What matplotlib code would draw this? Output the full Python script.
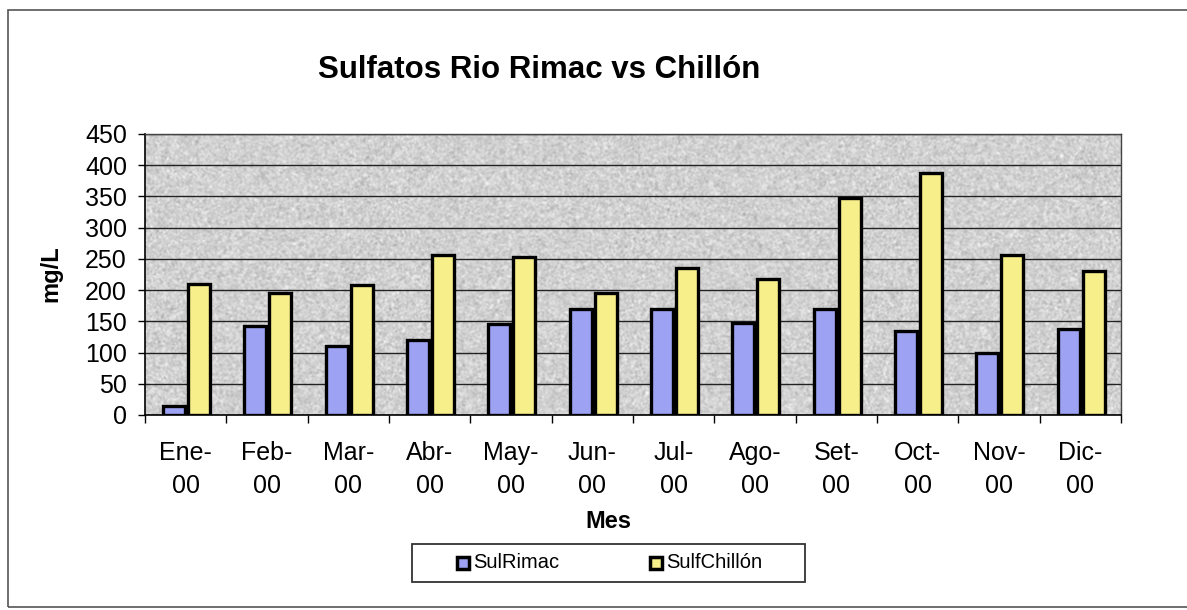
import numpy as np
import matplotlib
matplotlib.use("Agg")
import matplotlib.pyplot as plt
from matplotlib.patches import Rectangle

plt.rcParams['font.family'] = ['Liberation Sans', 'DejaVu Sans']

meses = ["Ene-\n00", "Feb-\n00", "Mar-\n00", "Abr-\n00", "May-\n00", "Jun-\n00",
         "Jul-\n00", "Ago-\n00", "Set-\n00", "Oct-\n00", "Nov-\n00", "Dic-\n00"]
sul_rimac = [14, 142, 111, 120, 145, 170, 170, 148, 170, 135, 100, 137]
sulf_chillon = [210, 196, 208, 257, 253, 195, 236, 218, 348, 387, 257, 230]
y_ticks = [0, 50, 100, 150, 200, 250, 300, 350, 400, 450]
series_names = ["SulRimac", "SulfChillón"]
series_colors = ["#9da3f2", "#f6ef8a"]

W, H, DPI = 1187, 610, 100
fig = plt.figure(figsize=(W / DPI, H / DPI), dpi=DPI)
fig.patch.set_facecolor("white")


def fx(px):
    return px / W


def fy(py):
    return 1 - py / H


# chart frame
fig.add_artist(Rectangle((fx(8), fy(607)), 1.2, (607 - 10) / H,
                         transform=fig.transFigure, fill=False,
                         edgecolor="#555555", linewidth=1.2))

ax = fig.add_axes([fx(145), fy(415), (1121 - 145) / W, (415 - 134) / H])

# granite-like plot area fill
rng = np.random.default_rng(7)
tex = rng.normal(0, 1, (290, 980))
k = np.array([0.25, 0.5, 0.25])
tex = np.apply_along_axis(lambda r: np.convolve(r, k, mode="same"), 1, tex)
tex = np.apply_along_axis(lambda c: np.convolve(c, k, mode="same"), 0, tex)
gray = np.clip(0.82 + 0.10 * tex, 0, 1)
rgb = np.dstack([gray, gray, gray])
ax.imshow(rgb, extent=(-0.5, 11.5, 0, 450), aspect="auto", zorder=0,
          interpolation="bilinear")

x = np.arange(len(meses))
bw = 0.27
ax.bar(x - 0.145, sul_rimac, bw, color=series_colors[0], edgecolor="black",
       linewidth=2.4, zorder=3)
ax.bar(x + 0.165, sulf_chillon, bw, color=series_colors[1], edgecolor="black",
       linewidth=2.4, zorder=3)

ax.set_xlim(-0.5, 11.5)
ax.set_ylim(0, 450)
ax.set_yticks(y_ticks)
ax.set_yticklabels([str(v) for v in y_ticks], fontsize=18)
ax.yaxis.grid(True, color="#222222", linewidth=1.0)
for gl in ax.get_ygridlines():
    gl.set_zorder(1)

ax.set_xticks(x)
ax.set_xticklabels(meses, fontsize=18, linespacing=1.45)
ax.tick_params(axis="x", which="major", length=0, pad=19)
ax.set_xticks(np.arange(-0.5, 12, 1), minor=True)
ax.tick_params(axis="x", which="minor", length=6, width=1, color="black")
ax.tick_params(axis="y", length=5, width=1, pad=8)

for side in ("left", "bottom"):
    ax.spines[side].set_color("black")
    ax.spines[side].set_linewidth(1.2)
for side in ("top", "right"):
    ax.spines[side].set_color("#444444")
    ax.spines[side].set_linestyle((0, (2, 1)))
    ax.spines[side].set_linewidth(1.0)

fig.text(fx(539), fy(70), "Sulfatos Rio Rimac vs Chillón", ha="center",
         va="center", fontsize=22.5, fontweight="bold")
fig.text(fx(51), fy(274), "mg/L", ha="center", va="center", rotation=90,
         fontsize=17, fontweight="bold")
fig.text(fx(608), fy(522), "Mes", ha="center", va="center",
         fontsize=17, fontweight="bold")

# legend box with its two entries
fig.add_artist(Rectangle((fx(412), fy(582)), (805 - 412) / W, (582 - 544) / H,
                         transform=fig.transFigure, facecolor="white",
                         edgecolor="#333333", linewidth=1.3))
for name, color, mx in zip(series_names, series_colors, (457, 650)):
    fig.add_artist(Rectangle((fx(mx), fy(569)), 12 / W, 12 / H,
                             transform=fig.transFigure, facecolor=color,
                             edgecolor="black", linewidth=2.5))
    fig.text(fx(mx + 16), fy(563), name, ha="left", va="center",
             fontsize=14.5)

fig.savefig("out.png", dpi=DPI)
